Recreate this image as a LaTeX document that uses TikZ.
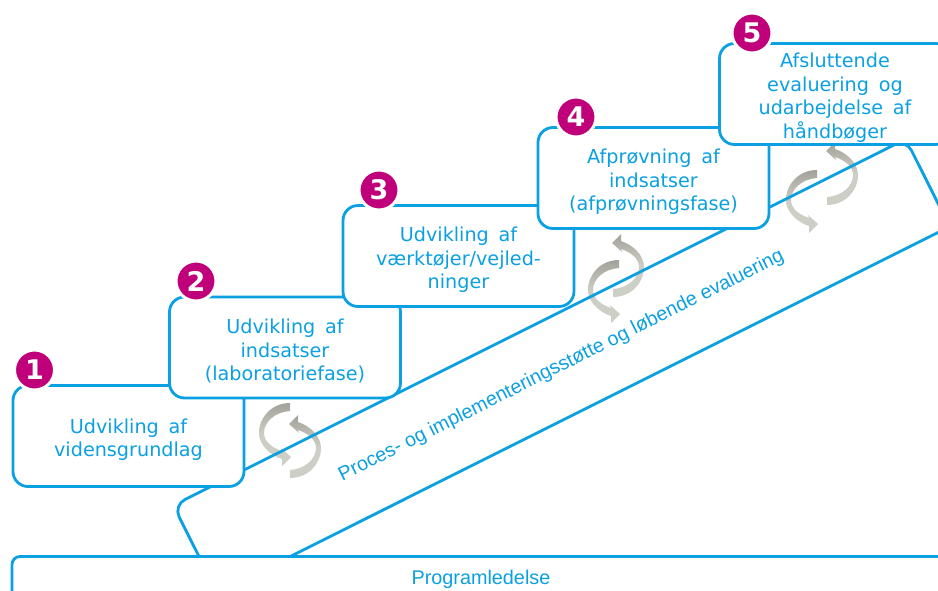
\documentclass[tikz,border=0pt]{standalone}
\usepackage{fontspec}
\setmainfont[WordSpace=1.6]{DejaVu Sans}
\newfontfamily\procfont{Liberation Sans}
\definecolor{lineblue}{HTML}{0BA0E2}
\definecolor{badgepink}{HTML}{C0007A}
\definecolor{arcdark}{HTML}{A3A29A}
\definecolor{arclight}{HTML}{CDCEC5}
\newcommand{\lifttext}{\rule{0pt}{22pt}}

\tikzset{
	stepbox/.style={draw=lineblue, line width=2.8pt, fill=white, rounded corners=15pt, text=lineblue, align=center, minimum width=231pt, minimum height=101pt, inner sep=0pt, font=\fontsize{19.2}{23.6}\selectfont},
	badge/.style={circle, fill=badgepink, draw=white, line width=3pt, text=white, inner sep=0pt, minimum size=40pt, font=\fontsize{27}{27}\selectfont\bfseries},
	bandbox/.style={draw=lineblue, line width=2.8pt, text=lineblue, rounded corners=13pt, inner sep=0pt, font=\fontsize{19.7}{23}\selectfont\procfont},
	halfarc/.pic={
		\shade[top color=arcdark, bottom color=arclight, middle color=arclight]
			(0,-28) .. controls (-18,-28) and (-31,-14) .. (-31,2)
			.. controls (-31,14) and (-20,24) .. (-8,28) -- (-8,35) -- (1,26) -- (-9,17) -- (-8,20)
			.. controls (-17,17) and (-26,11) .. (-26,2)
			.. controls (-26,-9) and (-15,-19) .. (0,-20) -- cycle;
	}
}

\begin{document}
\begin{tikzpicture}[x=1pt,y=-1pt]

	\useasboundingbox (0,0) rectangle (938,590);
	\clip (0,0) rectangle (938,590);


	\foreach \x/\y in {290/431,619/288,817/198}
		\pic at (\x,\y) {halfarc};
	\foreach \x/\y in {290/450,613/269,827/177}
		\pic[rotate=180] at (\x,\y) {halfarc};


	\node[bandbox, rotate=26.57, minimum width=819pt, minimum height=98pt] (process) at (561.5,366) {Proces- og implementeringsstøtte og løbende evaluering};

	\node[bandbox, fill=white, rounded corners=8pt, minimum width=938pt, minimum height=45pt, font=\fontsize{19.8}{22}\selectfont\procfont] (program) at (481,579) {Programledelse};


	\node[stepbox] (box1) at (128.5,436) {\lifttext Udvikling af\\vidensgrundlag};
	\node[stepbox] (box2) at (285,347.5) {\lifttext Udvikling af\\indsatser\\(laboratoriefase)};
	\node[stepbox] (box3) at (458.5,256) {\lifttext Udvikling af\\værktøjer/vejled-\\ninger};
	\node[stepbox] (box4) at (653.5,178) {\lifttext Afprøvning af\\indsatser\\(afprøvningsfase)};
	\node[stepbox] (box5) at (835,94) {\lifttext Afsluttende\\evaluering og\\udarbejdelse af\\håndbøger};


	\node[badge] (badge1) at (34.5,370) {1};
	\node[badge] (badge2) at (196,281) {2};
	\node[badge] (badge3) at (379,190) {3};
	\node[badge] (badge4) at (576,117) {4};
	\node[badge] (badge5) at (752,33) {5};

\end{tikzpicture}
\end{document}
